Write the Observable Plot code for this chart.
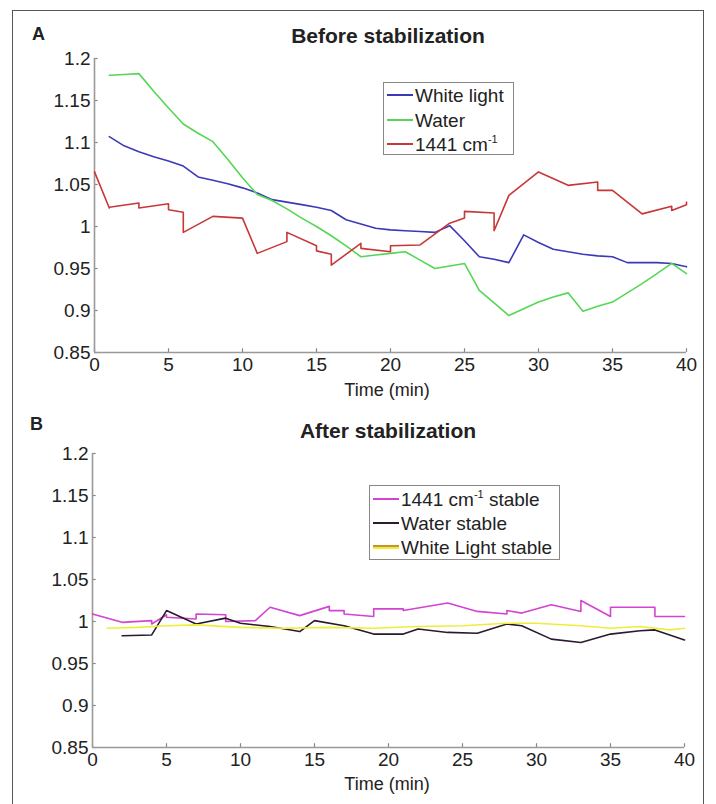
<!DOCTYPE html>
<html><head><meta charset="utf-8">
<script src="https://cdn.jsdelivr.net/npm/d3@7"></script>
<script src="https://cdn.jsdelivr.net/npm/@observablehq/plot@0.6"></script>
<style>
body{margin:0;background:#fff;font-family:"Liberation Sans",Arial,sans-serif;color:#222;}
#fig{position:relative;width:716px;height:804px;overflow:hidden;background:#fff;}
.frame{position:absolute;left:12px;top:10px;width:692px;height:820px;border:1.5px solid #555;box-sizing:border-box;}
.panel{position:absolute;left:0;}
.abs{position:absolute;white-space:nowrap;line-height:1;}
.lab{font-weight:bold;font-size:18px;}
.title{font-weight:bold;font-size:21px;width:716px;text-align:center;left:30px;}
.xlab{font-size:18px;width:716px;text-align:center;left:29px;}
.legbox{position:absolute;border:1.5px solid #888;background:#fff;box-sizing:border-box;}
.legtxt{font-size:19px;}
.sw{position:absolute;height:2px;}
sup{font-size:11px;vertical-align:0;position:relative;top:-8px;}
</style></head>
<body><div id="fig"><div class="frame"></div></div>
<script>
// ---- Panel A data ----
const timeA = [1,2,3,4,5,6,7,8,9,10,11,12,13,14,15,16,17,18,19,20,21,22,23,24,25,26,27,28,29,30,31,32,33,34,35,36,37,38,39,40];
const whiteLight = [1.107,1.096,1.089,1.083,1.078,1.072,1.059,1.055,1.051,1.046,1.040,1.032,1.029,1.026,1.023,1.019,1.008,1.003,0.998,0.996,0.995,0.994,0.993,1.001,0.983,0.964,0.961,0.957,0.990,0.981,0.973,0.970,0.967,0.965,0.964,0.957,0.957,0.957,0.956,0.952];
const water = [1.180,1.181,1.182,1.161,1.141,1.122,1.111,1.101,1.080,1.058,1.038,1.031,1.021,1.010,1.000,0.989,0.977,0.964,0.966,0.968,0.970,0.960,0.950,0.953,0.956,0.924,0.909,0.894,0.902,0.910,0.916,0.921,0.899,0.905,0.910,0.921,0.932,0.944,0.956,0.944];
const time1441 = [0,1,1,3,3,5,5,6,6,8,10,11,13,13,15,15,16,16,18,18,20,20,22,24,25,25,27,27,28,30,32,34,34,35,37,39,39,40,40];
const band1441 = [1.065,1.022,1.023,1.028,1.022,1.027,1.020,1.017,0.993,1.012,1.010,0.968,0.982,0.993,0.977,0.971,0.967,0.954,0.980,0.974,0.970,0.977,0.978,1.004,1.010,1.018,1.016,0.995,1.037,1.065,1.049,1.053,1.043,1.043,1.015,1.024,1.019,1.026,1.029];
// ---- Panel B data ----
const time1441s = [0,2,4,4,5,5,7,7,9,9,11,12,14,16,16,17,17,19,19,21,21,23,24,26,28,28,29,31,33,33,35,35,38,38,40];
const band1441s = [1.009,0.999,1.001,0.997,1.008,1.005,1.003,1.009,1.008,1.000,1.001,1.017,1.007,1.018,1.013,1.013,1.009,1.006,1.015,1.015,1.013,1.019,1.022,1.012,1.009,1.013,1.010,1.020,1.012,1.025,1.006,1.017,1.017,1.006,1.006];
const timeWaterS = [2,4,5,7,9,10,12,14,15,17,19,21,22,24,26,28,29,31,33,35,37,38,40];
const waterS = [0.983,0.984,1.013,0.997,1.004,0.998,0.994,0.988,1.001,0.995,0.985,0.985,0.991,0.987,0.986,0.997,0.995,0.979,0.975,0.985,0.989,0.990,0.978];
const timeWhiteS = [1,3,5,7,10,13,16,19,22,25,28,30,33,35,37,39,40];
const whiteS = [0.992,0.993,0.995,0.996,0.993,0.992,0.993,0.992,0.994,0.995,0.998,0.998,0.995,0.992,0.994,0.990,0.992];
// ---- ticks / labels ----
const xTicks = [0,5,10,15,20,25,30,35,40];
const yTicks = [0.85,0.9,0.95,1,1.05,1.1,1.15,1.2];
const namesA = ["White light","Water","1441 cm<sup>-1</sup>"];
const colorsA = ["#3a3ab8","#55d655","#c83737"];
const namesB = ["1441 cm<sup>-1</sup> stable","Water stable","White Light stable"];
const colorsB = ["#d244d2","#2a1a2c","#eeee3a"];

const zip = (t, v) => t.map((x, i) => ({t: x, v: v[i]}));
const fmt = d => String(d);

function panel({height, mt, mb, ml, mr, series, colors}) {
  return Plot.plot({
    width: 716, height,
    marginTop: mt, marginBottom: mb, marginLeft: ml, marginRight: mr,
    x: {domain: [0, 40]},
    y: {domain: [0.85, 1.2]},
    style: {fontFamily: "'Liberation Sans', Arial, sans-serif", fontSize: "19px", color: "#222", background: "transparent", overflow: "visible"},
    marks: [
      Plot.ruleY(yTicks, {x1: 0, x2: 0.25, stroke: "#888", strokeWidth: 1.2}),
      Plot.ruleX(xTicks, {y1: 0.85, y2: 0.8545, stroke: "#888", strokeWidth: 1.2}),
      Plot.ruleX([0], {stroke: "#999", strokeWidth: 1.6}),
      Plot.ruleY([0.85], {stroke: "#999", strokeWidth: 1.6}),
      Plot.axisY(yTicks, {tickSize: 0, tickPadding: 4, fontSize: 19, label: null, tickFormat: fmt}),
      Plot.axisX(xTicks, {tickSize: 0, tickPadding: 5, fontSize: 19, label: null, tickFormat: fmt}),
      ...series.map((s, i) => Plot.line(s, {x: "t", y: "v", stroke: colors[i], strokeWidth: 1.6}))
    ]
  });
}

const fig = document.getElementById("fig");
const chartA = panel({height: 400, mt: 58, mb: 48, ml: 94, mr: 30,
  series: [zip(timeA, whiteLight), zip(timeA, water), zip(time1441, band1441)], colors: colorsA});
const chartB = panel({height: 404, mt: 53, mb: 57, ml: 92, mr: 32,
  series: [zip(time1441s, band1441s), zip(timeWaterS, waterS), zip(timeWhiteS, whiteS)], colors: colorsB});
chartA.classList.add("panel"); chartA.style.top = "0px";
chartB.classList.add("panel"); chartB.style.top = "400px";
fig.appendChild(chartA); fig.appendChild(chartB);

function addText(html, cls, left, top) {
  const d = document.createElement("div");
  d.className = "abs " + cls;
  d.innerHTML = html;
  if (left !== null) d.style.left = left + "px";
  d.style.top = top + "px";
  fig.appendChild(d);
  return d;
}
addText("A", "lab", 32, 25);
addText("B", "lab", 30, 415);
addText("Before stabilization", "title", null, 25);
addText("After stabilization", "title", null, 420);
addText("Time (min)", "xlab", null, 381);
addText("Time (min)", "xlab", null, 775);

function legend(names, colors, box, rows, swX, txtX, dual) {
  const b = document.createElement("div");
  b.className = "legbox";
  Object.assign(b.style, {left: box[0] + "px", top: box[1] + "px", width: box[2] + "px", height: box[3] + "px"});
  fig.appendChild(b);
  names.forEach((n, i) => {
    const cy = rows[i];
    const s = document.createElement("div");
    s.className = "sw";
    Object.assign(s.style, {left: swX[0] + "px", width: (swX[1] - swX[0]) + "px", top: (cy - 1) + "px", background: colors[i]});
    fig.appendChild(s);
    if (dual && i === names.length - 1) {
      s.style.top = (cy) + "px";
      const o = document.createElement("div");
      o.className = "sw";
      Object.assign(o.style, {left: swX[0] + "px", width: (swX[1] - swX[0]) + "px", top: (cy - 2) + "px", height: "1.5px", background: "#c8922c"});
      fig.appendChild(o);
    }
    addText(n, "legtxt", txtX, cy - 9);
  });
}
legend(namesA, colorsA, [383, 82, 131, 73], [95, 120, 144], [387, 413], 415, false);
legend(namesB, colorsB, [369, 485, 191, 75], [499, 523, 547], [373, 399], 401, true);
</script></body></html>
